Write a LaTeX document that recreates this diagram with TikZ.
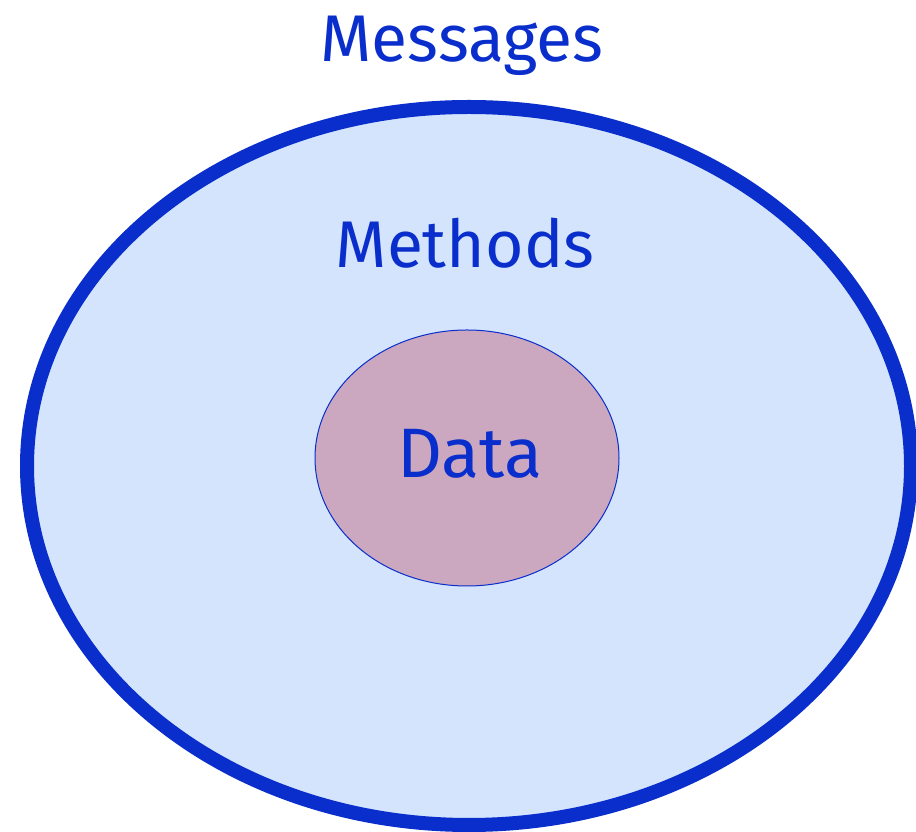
\documentclass[tikz,border=0pt]{standalone}
\usepackage{fontspec}
\setmainfont{Fira Sans}
\definecolor{deepblue}{HTML}{0A2ECC}
\definecolor{paleblue}{HTML}{D3E4FC}
\definecolor{mauve}{HTML}{CCA8C0}
\tikzset{
  lbl/.style={text=deepblue, inner sep=0pt, anchor=base, font=\fontsize{66}{72}\selectfont},
}
\begin{document}
\begin{tikzpicture}[x=1pt,y=1pt]
\useasboundingbox (0,0) rectangle (916,832);
\fill[white] (0,0) rectangle (916,832);
\draw[deepblue, fill=paleblue, line width=14pt] (469,366) ellipse [x radius=442, y radius=359];
\draw[deepblue, fill=mauve, line width=1pt] (467,374) ellipse [x radius=152, y radius=128];
\node[lbl] (messages) at (462,770) {Messages};
\node[lbl] (methods) at (465,564) {Methods};
\node[lbl, font=\fontsize{70}{76}\selectfont] (data) at (470,354) {Data};
\end{tikzpicture}
\end{document}
